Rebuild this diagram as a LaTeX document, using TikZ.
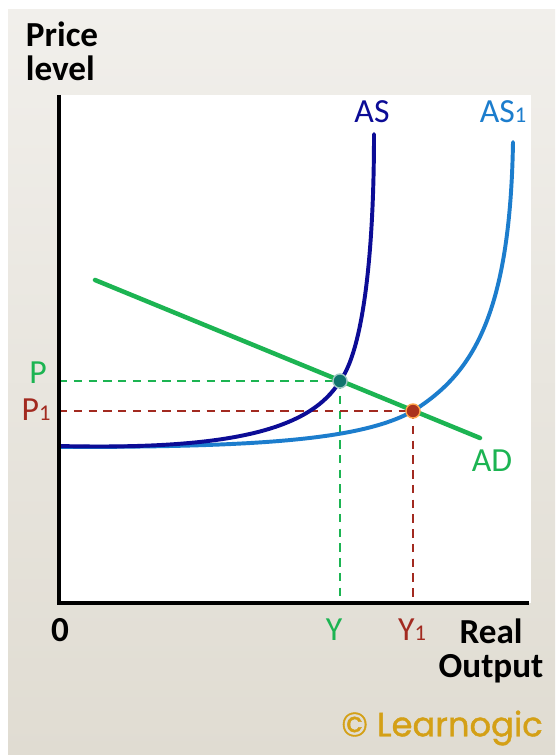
\documentclass[tikz,border=0pt]{standalone}
\usepackage{fontspec}
\setmainfont{Carlito}
\newfontfamily\logofont[FakeBold=1.2]{Poppins}
\usetikzlibrary{positioning}

\definecolor{asblue}{RGB}{12,12,150}
\definecolor{asonecol}{RGB}{28,125,205}
\definecolor{adgreen}{RGB}{28,180,82}
\definecolor{pred}{RGB}{162,42,32}
\definecolor{eqteal}{RGB}{16,116,110}
\definecolor{logogold}{RGB}{212,160,22}
\definecolor{paneltop}{RGB}{241,239,235}
\definecolor{panelbot}{RGB}{224,220,210}

\newcommand{\idx}[1]{{\fontsize{16}{16}\selectfont #1}}

\tikzset{
  axislabel/.style={font=\fontsize{25}{27}\selectfont\bfseries},
  curvelabel/.style={font=\fontsize{24}{26}\selectfont},
  guide/.style={dash pattern=on 6pt off 4.5pt, line width=1.7pt},
  curve/.style={line width=2.8pt, line cap=round},
  eqdot/.style={circle, inner sep=0pt, minimum size=10pt},
}

\begin{document}
\begin{tikzpicture}[x=0.025cm, y=-0.025cm]
\useasboundingbox (0,0) rectangle (555,755);

% Fond
\shade[top color=paneltop, bottom color=panelbot] (8,10) rectangle (555,755);
\fill[white] (59,95) rectangle (531,603);

% Points d'equilibre
\coordinate (O) at (59,603);
\coordinate (E) at (340,381);
\coordinate (E1) at (413,411);
\coordinate (PE) at (59,381);
\coordinate (PE1) at (59,411);
\coordinate (YE) at (340,603);
\coordinate (YE1) at (413,603);

% Pointilles
\draw[guide, adgreen] (PE) -- (E);
\draw[guide, adgreen] (E) -- (YE);
\draw[guide, pred] (PE1) -- (E1);
\draw[guide, pred] (E1) -- (YE1);

% AS1
\draw[curve, asonecol] (59,447) .. controls (250,447) and (360,441) .. (E1)
  .. controls (470,375) and (510,320) .. (513,142);

% AS
\draw[curve, asblue] (59,446) .. controls (230,450) and (310,430) .. (E)
  .. controls (362,352) and (374,260) .. (374,134);

% AD
\draw[curve, adgreen, line width=3.2pt] (95,280) -- (480,438);

% Axes
\draw[line width=3pt] (59,95) -- (O) -- (529,603);

% Points
\node[eqdot, fill=eqteal, draw=eqteal!40, line width=1pt] (ptE) at (E) {};
\node[eqdot, fill=pred!90!orange, draw=orange!70, line width=1pt] (ptE1) at (E1) {};

% Textes
\node[axislabel, align=left, anchor=west] (pl) at (21,51) {Price\\[-3pt]level};
\node[curvelabel, asblue] (as) at (372,112) {AS};
\node[curvelabel, asonecol] (as1) at (503,112) {AS\idx{1}};
\node[curvelabel, adgreen] (ad) at (492,461) {AD};
\node[curvelabel, adgreen] (p) at (38,373) {P};
\node[curvelabel, pred] (p1) at (36,410) {P\idx{1}};
\node[axislabel] (zero) at (60,630) {0};
\node[curvelabel, adgreen] (y) at (334,630) {Y};
\node[curvelabel, pred] (y1) at (412,630) {Y\idx{1}};
\node[axislabel, align=center] (ro) at (491,651) {Real\\[-3pt]Output};
\node[font=\fontsize{24}{26}\selectfont\logofont, logogold] (logo) at (442,728) {© Learnogic};

\end{tikzpicture}
\end{document}
